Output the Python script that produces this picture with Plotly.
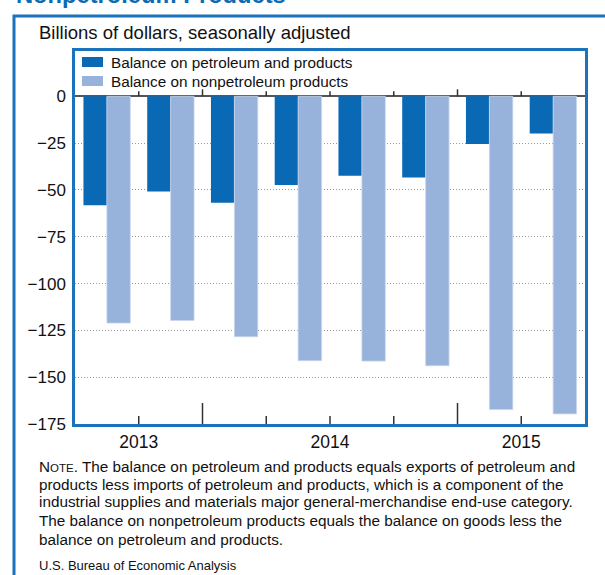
import plotly.graph_objects as go

quarters = ["2013 Q3", "2013 Q4", "2014 Q1", "2014 Q2", "2014 Q3", "2014 Q4", "2015 Q1", "2015 Q2"]
years = ["2013", "2013", "2014", "2014", "2014", "2014", "2015", "2015"]
series_names = ["Balance on petroleum and products", "Balance on nonpetroleum products"]
petroleum = [-58.2, -50.8, -56.9, -47.4, -42.4, -43.3, -25.5, -19.8]
nonpetroleum = [-121.1, -119.7, -128.4, -141.2, -141.4, -143.9, -167.3, -169.6]
y_ticks = [0, -25, -50, -75, -100, -125, -150, -175]
y_ticktext = [("\u2212" + str(abs(v))) if v < 0 else str(v) for v in y_ticks]

W, H = 605, 575
L, R, T, B = 75, 20, 51, 151
PW, PH = W - L - R, H - T - B

def px(x):
    return (x - L) / PW

def py(y):
    return 1 - (y - T) / PH

BLUE = "#1b73bb"
C_PET = "#0a69b4"
C_NON = "#97b2db"
FONT = "Liberation Sans, Arial, sans-serif"

xs = list(range(len(quarters)))

fig = go.Figure()
fig.add_trace(go.Bar(x=xs, y=petroleum, name=series_names[0], showlegend=False,
                     marker=dict(color=C_PET, line=dict(width=0))))
fig.add_trace(go.Bar(x=xs, y=nonpetroleum, name=series_names[1], showlegend=False,
                     marker=dict(color=C_NON, line=dict(color="#c9d7ee", width=0.8))))

# year label positions (centre of each year's quarters)
year_order = []
for yv in years:
    if yv not in year_order:
        year_order.append(yv)
year_pos = [sum(i for i, yv in enumerate(years) if yv == y0) / years.count(y0) for y0 in year_order]

shapes = []
for i in range(len(quarters) - 1):
    b = i + 0.5
    big = years[i] != years[i + 1]
    shapes.append(dict(type="line", xref="x", yref="y", ysizemode="pixel", yanchor=-175,
                       x0=b, x1=b, y0=0, y1=21 if big else 8,
                       line=dict(color="#333333", width=1.5)))
    shapes.append(dict(type="line", xref="x", yref="y", ysizemode="pixel", yanchor=0,
                       x0=b, x1=b, y0=0, y1=7 if big else 5,
                       line=dict(color="#333333", width=1.5)))

# outer frame
shapes.append(dict(type="rect", xref="paper", yref="paper",
                   x0=px(14), x1=px(609), y0=py(16), y1=py(600),
                   line=dict(color=BLUE, width=3), layer="below"))

annotations = [
    dict(text="<b>Nonpetroleum Products</b>", xref="paper", yref="paper",
         x=px(14), y=py(10), xanchor="left", yanchor="bottom", showarrow=False,
         font=dict(family=FONT, size=23.7, color="#0a6cb5")),
    dict(text="Billions of dollars, seasonally adjusted", xref="paper", yref="paper",
         x=px(37), y=py(33), xanchor="left", yanchor="middle", showarrow=False,
         font=dict(family=FONT, size=18.5, color="#111111")),
]

# custom legend (swatch + label)
leg_y = [62, 81]
for name, col, yy in zip(series_names, [C_PET, C_NON], leg_y):
    shapes.append(dict(type="rect", xref="paper", yref="paper",
                       x0=px(82), x1=px(103), y0=py(yy - 5), y1=py(yy + 5),
                       fillcolor=col, line=dict(width=0)))
    annotations.append(dict(text=name, xref="paper", yref="paper", x=px(109), y=py(yy),
                            xanchor="left", yanchor="middle", showarrow=False,
                            font=dict(family=FONT, size=15.3, color="#111111")))

note_lines = [
    "N<span style='font-size:11.5px'>OTE</span>. The balance on petroleum and products equals exports of petroleum and",
    "products less imports of petroleum and products, which is a component of the",
    "industrial supplies and materials major general-merchandise end-use category.",
    "The balance on nonpetroleum products equals the balance on goods less the",
    "balance on petroleum and products.",
]
note_y = [466, 484, 502, 520, 539]
for t, yy in zip(note_lines, note_y):
    annotations.append(dict(text=t, xref="paper", yref="paper", x=px(37), y=py(yy),
                            xanchor="left", yanchor="middle", showarrow=False,
                            font=dict(family=FONT, size=15.3, color="#111111")))
annotations.append(dict(text="U.S. Bureau of Economic Analysis", xref="paper", yref="paper",
                        x=px(37), y=py(565), xanchor="left", yanchor="middle", showarrow=False,
                        font=dict(family=FONT, size=13, color="#111111")))

fig.update_layout(
    width=W, height=H,
    margin=dict(l=L, r=R, t=T, b=B, pad=0),
    paper_bgcolor="white", plot_bgcolor="white",
    barmode="group", bargap=0.265, bargroupgap=0,
    font=dict(family=FONT, size=16, color="#111111"),
    showlegend=False,
    hovermode=False,
    shapes=shapes,
    annotations=annotations,
)
fig.update_xaxes(range=[-0.5, len(quarters) - 0.5], tickvals=year_pos, ticktext=year_order,
                 ticks="", showgrid=False, zeroline=False,
                 showline=True, mirror=True, linecolor=BLUE, linewidth=2.5,
                 tickfont=dict(size=17.5, color="#111111"), ticklabelstandoff=0)
fig.update_yaxes(range=[-175, 24.2], tickvals=y_ticks, ticktext=y_ticktext,
                 ticks="", showgrid=True, gridcolor="#999999", griddash="1px,2px", gridwidth=1,
                 zeroline=True, zerolinecolor="#555555", zerolinewidth=1.5,
                 showline=True, mirror=True, linecolor=BLUE, linewidth=2.5,
                 tickfont=dict(size=17, color="#111111"), ticklabelstandoff=3)

fig.write_html("out.html", config={"displayModeBar": False},
               post_script="document.body.style.margin='0px';")
